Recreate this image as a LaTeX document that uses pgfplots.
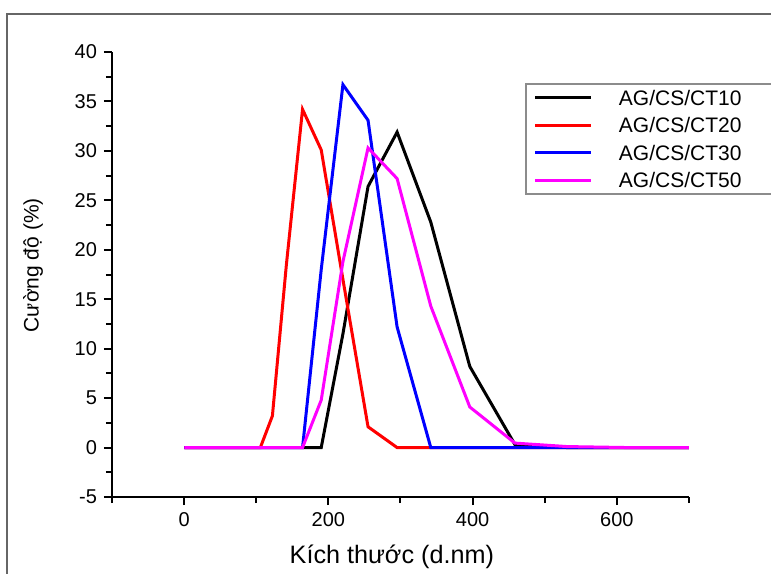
\documentclass[border=0pt]{standalone}
\usepackage{fontspec}
\setmainfont{Liberation Sans}
\usepackage{pgfplots}
\pgfplotsset{compat=1.18}
\definecolor{mag}{RGB}{255,0,255}
\definecolor{pure red}{RGB}{255,0,0}
\definecolor{pure blue}{RGB}{0,0,255}

\begin{document}
\begin{tikzpicture}
\begin{axis}[
    scale only axis,
    width=288.5pt, height=222.5pt,
    xmin=-100, xmax=700,
    ymin=-5, ymax=40,
    axis x line*=bottom,
    axis y line*=left,
    xtick={0,200,400,600},
    minor xtick={-100,100,300,500,700},
    ytick={-5,0,5,10,15,20,25,30,35,40},
    minor ytick={-2.5,2.5,7.5,12.5,17.5,22.5,27.5,32.5,37.5},
    tick align=outside,
    major tick length=4pt,
    minor tick length=3pt,
    every tick/.style={black, line width=1pt},
    axis line style={line width=1.2pt},
    /pgf/number format/assume math mode=true,
    ticklabel style={font=\fontsize{10}{12}\selectfont},
    xlabel={Kích thước (d.nm)},
    ylabel={Cường độ (\%)},
    xlabel style={font=\fontsize{12.6}{14}\selectfont, at={(rel axis cs:0.485,0)}, anchor=base, yshift=-33pt},
    ylabel style={font=\fontsize{10.5}{12}\selectfont, at={(rel axis cs:0,0.521)}, anchor=center, rotate=0, yshift=39.5pt},
    legend style={at={(rel axis cs:0.716,0.930)}, anchor=north west,
        draw=black!45, line width=0.8pt, inner xsep=4pt, inner ysep=3.25pt,
        font=\fontsize{10.5}{12}\selectfont,
        row sep=6.2pt, column sep=0pt,
        nodes={inner sep=0pt, text height=7.5pt, text depth=0pt, text width=74.5pt, align=left}},
    legend cell align=left,
    legend image code/.code={
        \draw[#1, line width=1.5pt] (0pt,0pt) -- (28pt,0pt);
        \path (41pt,0pt);
    },
    clip=true,
]

% CT10
\addplot[black, line width=1.5pt] coordinates {
    (0.4,0)(91.28,0)(105.7,0)(122.4,0)(141.8,0)(164.2,0)(190.1,0)(220.2,11.5)
    (255.0,26.4)(295.3,31.9)(342.0,22.8)(396.1,8.2)(458.7,0.3)(531.2,0)(615.1,0)(712.4,0)
};
\addlegendentry{AG/CS/CT10}

% CT20
\addplot[pure red, line width=1.5pt] coordinates {
    (0.4,0)(91.28,0)(105.7,0)(122.4,3.2)(141.8,18.5)(164.2,34.2)(190.1,30.1)(220.2,17.0)
    (255.0,2.1)(295.3,0)(342.0,0)(396.1,0)(458.7,0)(531.2,0)(615.1,0)(712.4,0)
};
\addlegendentry{AG/CS/CT20}

% CT30
\addplot[pure blue, line width=1.5pt] coordinates {
    (0.4,0)(91.28,0)(105.7,0)(122.4,0)(141.8,0)(164.2,0)(190.1,18.0)(220.2,36.7)
    (255.0,33.1)(295.3,12.2)(342.0,0)(396.1,0)(458.7,0)(531.2,0)(615.1,0)(712.4,0)
};
\addlegendentry{AG/CS/CT30}

% CT50
\addplot[mag, line width=1.5pt] coordinates {
    (0.4,0)(91.28,0)(105.7,0)(122.4,0)(141.8,0)(164.2,0)(190.1,4.8)(220.2,18.8)
    (255.0,30.3)(295.3,27.2)(342.0,14.3)(396.1,4.1)(458.7,0.45)(531.2,0.1)(615.1,0)(712.4,0)
};
\addlegendentry{AG/CS/CT50}

\end{axis}

% outer frame of the figure (cut at right and bottom)
\draw[black!60, line width=1pt] (-52.5pt,-60pt) -- (-52.5pt,241.5pt) -- (345pt,241.5pt);

\pgfresetboundingbox
\useasboundingbox (-56pt,-38pt) rectangle (329.5pt,248.5pt);
\end{tikzpicture}
\end{document}
